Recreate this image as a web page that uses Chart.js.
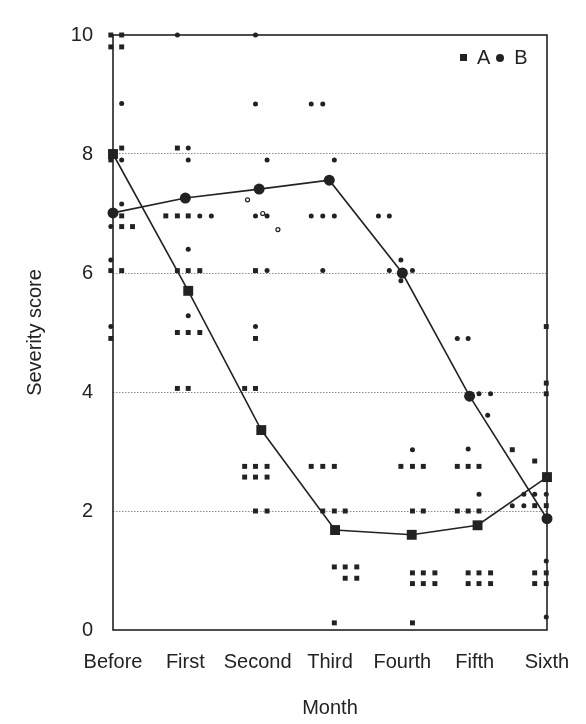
<!DOCTYPE html>
<html>
<head>
<meta charset="utf-8">
<script src="https://cdn.jsdelivr.net/npm/chart.js@4.4.1/dist/chart.umd.min.js"></script>
<style>
  html, body { margin: 0; padding: 0; background: #fff; }
  #wrap { position: relative; width: 586px; height: 724px; }
  #legend {
    position: absolute; left: 460px; top: 46px;
    display: flex; align-items: center;
    font: 20px "Liberation Sans", Arial, sans-serif; color: #222;
    white-space: nowrap;
  }
  #legend .sq { width: 7px; height: 7px; background: #222; margin-right: 10px; }
  #legend .dot { width: 8px; height: 8px; border-radius: 50%; background: #222; margin: 0 10px 0 6px; }
</style>
</head>
<body>
<div id="wrap">
  <canvas id="chart" width="586" height="724"></canvas>
  <div id="legend"><span class="sq"></span><span>A</span><span class="dot"></span><span>B</span></div>
</div>
<script>
const canvasChart = document.getElementById('chart');

/* DATA */
const MONTHS = ['Before', 'First', 'Second', 'Third', 'Fourth', 'Fifth', 'Sixth'];

// group means (x = month position as drawn, y = score)
const MEAN_A_X = [0, 1.04, 2.05, 3.07, 4.13, 5.04, 6];
const MEAN_A = [8.0, 5.70, 3.36, 1.68, 1.60, 1.76, 2.57];
const MEAN_B_X = [0, 1.0, 2.02, 2.99, 4.0, 4.93, 6];
const MEAN_B = [7.01, 7.26, 7.41, 7.56, 6.0, 3.93, 1.87];

// individual patients, [month position with jitter, score]
const PATIENTS_A = [
    [-0.03, 10], [0.12, 10], [-0.03, 9.8], [0.12, 9.8], [0.12, 8.1], [-0.03, 7.9],
    [0.12, 6.96], [0.12, 6.78], [0.27, 6.78], [-0.03, 6.04], [0.12, 6.04], [-0.03, 4.9],

    [0.89, 8.1], [0.73, 6.96], [0.89, 6.96], [1.04, 6.96], [0.89, 6.04], [1.04, 6.04],
    [1.20, 6.04], [0.89, 5.0], [1.04, 5.0], [1.20, 5.0], [0.89, 4.06], [1.04, 4.06],

    [1.97, 6.04], [1.97, 4.9], [1.82, 4.06], [1.97, 4.06], [1.82, 2.75], [1.97, 2.75],
    [2.13, 2.75], [1.82, 2.57], [1.97, 2.57], [2.13, 2.57], [1.97, 2.0], [2.13, 2.0],

    [2.74, 2.75], [2.90, 2.75], [3.06, 2.75], [2.90, 2.0], [3.06, 2.0], [3.21, 2.0],
    [3.06, 1.06], [3.21, 1.06], [3.37, 1.06], [3.21, 0.87], [3.37, 0.87], [3.06, 0.12],

    [3.98, 2.75], [4.14, 2.75], [4.29, 2.75], [4.14, 2.0], [4.29, 2.0], [4.14, 0.96],
    [4.29, 0.96], [4.45, 0.96], [4.14, 0.78], [4.29, 0.78], [4.45, 0.78], [4.14, 0.12],

    [4.76, 2.75], [4.91, 2.75], [5.06, 2.75], [4.76, 2.0], [4.91, 2.0], [5.06, 2.0],
    [4.91, 0.96], [5.06, 0.96], [5.22, 0.96], [4.91, 0.78], [5.06, 0.78], [5.22, 0.78],

    [5.99, 5.1], [5.99, 4.15], [5.99, 3.97], [5.52, 3.03], [5.83, 2.84], [5.83, 2.09],
    [5.99, 2.09], [5.83, 0.96], [5.99, 0.96], [5.83, 0.78], [5.99, 0.78]
];

const PATIENTS_B = [
    [0.12, 8.85], [0.12, 7.9], [0.12, 7.16], [-0.03, 6.78], [-0.03, 6.22], [-0.03, 5.1],

    [0.89, 10], [1.04, 8.1], [1.04, 7.9], [1.20, 6.96], [1.36, 6.96], [1.04, 6.4], [1.04, 5.28],

    [1.97, 10], [1.97, 8.84], [2.13, 7.9], [1.97, 6.96], [2.13, 6.96], [2.13, 6.04], [1.97, 5.1],

    [2.74, 8.84], [2.90, 8.84], [3.06, 7.9], [2.74, 6.96], [2.90, 6.96], [3.06, 6.96], [2.90, 6.04],

    [3.67, 6.96], [3.82, 6.96], [3.82, 6.04], [3.98, 6.22], [3.98, 5.87], [4.14, 6.04], [4.14, 3.03],

    [4.76, 4.9], [4.91, 4.9], [5.06, 3.97], [5.22, 3.97], [5.18, 3.61], [4.91, 3.04], [5.06, 2.28],

    [5.68, 2.28], [5.83, 2.28], [5.99, 2.28], [5.52, 2.09], [5.68, 2.09], [5.99, 1.16], [5.99, 0.22]
];

// the few hollow markers in the second month
const PATIENTS_B_OPEN = [[1.86, 7.23], [2.07, 7.0], [2.28, 6.73]];

/* HELPERS */
const INK = '#222';
const FONT = { family: '"Liberation Sans", Arial, sans-serif', size: 20 };
// x labels: tall line box instead of tick padding, so the right edge is not pushed in
const X_TICK_FONT = { family: '"Liberation Sans", Arial, sans-serif', size: 20, lineHeight: 3.2 };

const toPoints = (pairs) => pairs.map(p => ({ x: p[0], y: p[1] }));
const zipPoints = (xs, ys) => ys.map((y, i) => ({ x: xs[i], y: y }));

const GET_MEAN = (label, xs, ys, style, radius) => {
    return {
        label: label,
        data: zipPoints(xs, ys),
        showLine: true,
        borderColor: INK,
        borderWidth: 1.6,
        backgroundColor: INK,
        pointStyle: style,
        pointRadius: radius,
        pointBorderWidth: 0,
        clip: false,
        order: 0
    };
};

const GET_PATIENTS = (label, pairs, style, radius, fill) => {
    return {
        label: label,
        data: toPoints(pairs),
        showLine: false,
        pointStyle: style,
        pointRadius: radius,
        backgroundColor: fill,
        borderColor: INK,
        pointBorderWidth: fill === INK ? 0 : 1.2,
        clip: false,
        order: 1
    };
};

/* frame round the plot area */
const framePlugin = {
    id: 'frame',
    beforeDatasetsDraw(chart) {
        const { ctx, chartArea: a } = chart;
        ctx.save();
        ctx.strokeStyle = INK;
        ctx.lineWidth = 1.6;
        ctx.strokeRect(a.left, a.top, a.right - a.left, a.bottom - a.top);
        ctx.restore();
    }
};

/* Chart */
var chart = new Chart(canvasChart, {
    type: 'scatter',
    data: {
        datasets: [
            GET_MEAN('A', MEAN_A_X, MEAN_A, 'rect', 7),
            GET_MEAN('B', MEAN_B_X, MEAN_B, 'circle', 5.5),
            GET_PATIENTS('A patients', PATIENTS_A, 'rect', 3.5, INK),
            GET_PATIENTS('B patients', PATIENTS_B, 'circle', 2.5, INK),
            GET_PATIENTS('B patients (open)', PATIENTS_B_OPEN, 'circle', 2, '#fff')
        ]
    },
    options: {
        responsive: false,
        animation: false,
        events: [],
        layout: { padding: { top: 35, right: 39, left: 0, bottom: 0 } },
        plugins: {
            legend: { display: false },
            tooltip: { enabled: false }
        },
        scales: {
            x: {
                type: 'linear',
                min: 0,
                max: 6,
                afterFit: (scale) => { scale.height = 94; },
                ticks: {
                    stepSize: 1,
                    padding: 0,
                    color: INK,
                    font: X_TICK_FONT,
                    maxRotation: 0,
                    autoSkip: false,
                    callback: (v) => MONTHS[v]
                },
                grid: { display: false, drawTicks: false },
                border: { display: false },
                title: { display: true, text: 'Month', color: INK, font: FONT, padding: { top: 4, bottom: 4 } }
            },
            y: {
                min: 0,
                max: 10,
                afterFit: (scale) => { scale.width = 113; },
                ticks: { stepSize: 2, padding: 20, color: INK, font: FONT },
                grid: {
                    drawTicks: false,
                    lineWidth: 1,
                    color: (ctx) => (ctx.tick && (ctx.tick.value === 0 || ctx.tick.value === 10)) ? 'rgba(0,0,0,0)' : '#8c8c8c'
                },
                border: { display: false, dash: [1.5, 1.5] },
                title: { display: true, text: 'Severity score', color: INK, font: FONT, padding: { top: 23, bottom: 4 } }
            }
        }
    },
    plugins: [framePlugin]
});
</script>
</body>
</html>
